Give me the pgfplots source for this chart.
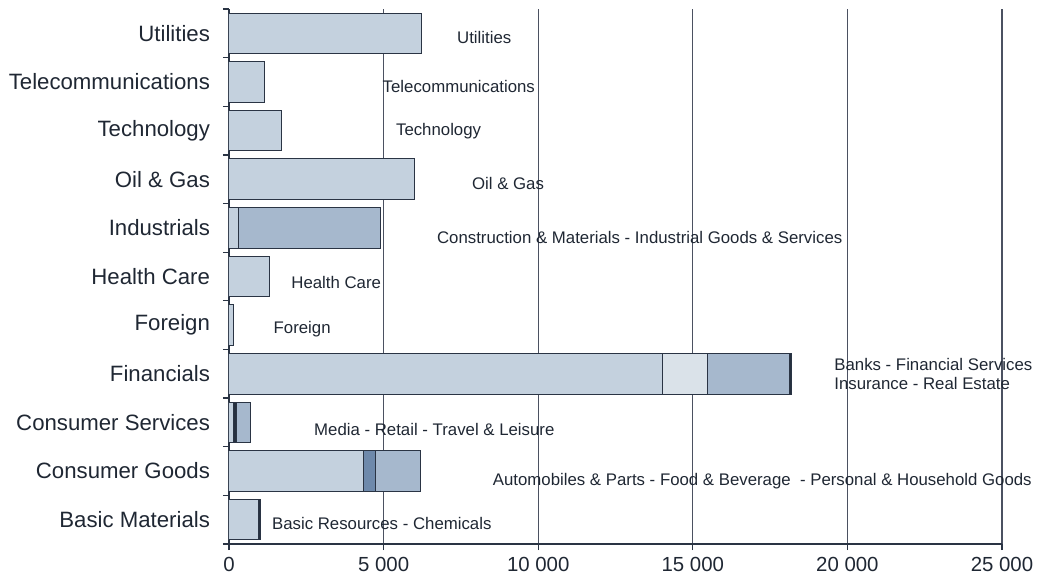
\documentclass[border=0pt]{standalone}
\usepackage{fontspec}
\setmainfont{Liberation Sans}
\usepackage{pgfplots}
\pgfplotsset{compat=1.18}
\definecolor{cA}{HTML}{C4D1DE}
\definecolor{cB}{HTML}{DAE2E9}
\definecolor{cC}{HTML}{A6B8CD}
\definecolor{cD}{HTML}{6E89AB}
\definecolor{cK}{HTML}{26303F}
\definecolor{cE}{HTML}{2A3444}
\definecolor{cG}{HTML}{4B5161}
\definecolor{cT}{HTML}{1F2733}
\tikzset{dlab/.style={font=\fontsize{8.4}{10}\selectfont, text=cT, anchor=west, inner sep=0pt}}
\begin{document}
\begin{tikzpicture}
\begin{axis}[
  at={(0,0)}, anchor=south west,
  scale only axis, width=386.5pt, height=267.5pt,
  xbar stacked, bar width=20.3pt,
  xmin=0, xmax=25000, ymin=-0.5, ymax=10.5,
  axis x line*=bottom, axis y line*=left,
  axis line style={draw=cE, line width=0.6pt, -},
  tick align=outside, major tick length=3pt,
  tick style={draw=cE, line width=0.6pt},
  xtick={0,5000,10000,15000,20000,25000},
  xticklabels={0,5 000,10 000,15 000,20 000,25 000},
  xmajorgrids, major grid style={draw=cG, line width=0.6pt},
  ytick={-0.5,0.5,...,10.5},
  y tick label as interval,
  yticklabels={Basic Materials, Consumer Goods, Consumer Services, Financials, Foreign, Health Care, Industrials, Oil \& Gas, Technology, Telecommunications, Utilities},
  yticklabel style={font=\fontsize{11.1}{13}\selectfont, text=cT, xshift=-3pt},
  xticklabel style={font=\fontsize{10.2}{12}\selectfont, text=cT, inner sep=0pt, yshift=-3.5pt},
  clip mode=individual,
]
\addplot[fill=cA, draw=cE, line width=0.5pt] coordinates {(970,0) (4350,1) (150,2) (14010,3) (130,4) (1300,5) (300,6) (6010,7) (1690,8) (1160,9) (6230,10)};
\addplot[fill=cB, draw=cE, line width=0.5pt] coordinates {(0,0) (0,1) (0,2) (1470,3) (0,4) (0,5) (0,6) (0,7) (0,8) (0,9) (0,10)};
\addplot[fill=cD, draw=cE, line width=0.5pt] coordinates {(0,0) (372,1) (0,2) (0,3) (0,4) (0,5) (0,6) (0,7) (0,8) (0,9) (0,10)};
\addplot[fill=cK, draw=cE, line width=0.5pt] coordinates {(65,0) (0,1) (90,2) (0,3) (0,4) (0,5) (0,6) (0,7) (0,8) (0,9) (0,10)};
\addplot[fill=cC, draw=cE, line width=0.5pt] coordinates {(0,0) (1462,1) (440,2) (2660,3) (0,4) (0,5) (4590,6) (0,7) (0,8) (0,9) (0,10)};
\addplot[fill=cK, draw=cE, line width=0.5pt] coordinates {(0,0) (0,1) (0,2) (60,3) (0,4) (0,5) (0,6) (0,7) (0,8) (0,9) (0,10)};
\node[dlab] at (axis cs:7365,9.91) {Utilities};
\node[dlab] at (axis cs:4958,8.90) {Telecommunications};
\node[dlab] at (axis cs:5391,7.98) {Technology};
\node[dlab] at (axis cs:7849,6.91) {Oil \& Gas};
\node[dlab] at (axis cs:6717,5.80) {Construction \& Materials - Industrial Goods \& Services};
\node[dlab] at (axis cs:2005,4.87) {Health Care};
\node[dlab] at (axis cs:1433,3.92) {Foreign};
\node[dlab] at (axis cs:19566,3.20) {Banks - Financial Services};
\node[dlab] at (axis cs:19566,2.79) {Insurance - Real Estate};
\node[dlab] at (axis cs:2742,1.85) {Media - Retail - Travel \& Leisure};
\node[dlab] at (axis cs:8522,0.80) {Automobiles \& Parts - Food \& Beverage\ \ - Personal \& Household Goods};
\node[dlab] at (axis cs:1381,-0.07) {Basic Resources - Chemicals};
\end{axis}
\pgfresetboundingbox
\path[use as bounding box] (-114.5pt,-18pt) rectangle (405pt,272pt);
\end{tikzpicture}
\end{document}
